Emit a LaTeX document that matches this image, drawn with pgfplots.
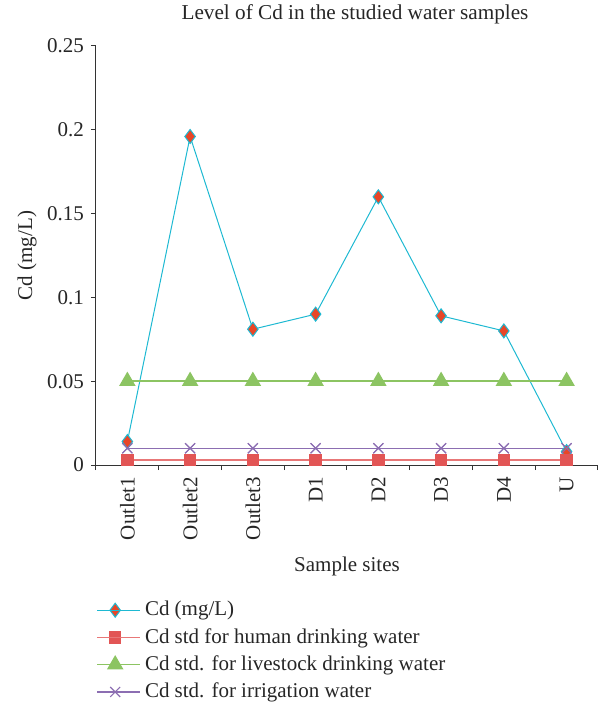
\documentclass[border=0pt]{standalone}
\usepackage{fontspec}
\setmainfont{Liberation Serif}
\usepackage{pgfplots}
\pgfplotsset{compat=1.18}
\definecolor{cdcyan}{RGB}{30,185,210}
\definecolor{cdred}{RGB}{232,70,40}
\definecolor{hred}{RGB}{226,85,85}
\definecolor{lgreen}{RGB}{140,196,98}
\definecolor{ipurple}{RGB}{140,110,178}
\begin{document}
\begin{tikzpicture}
\begin{axis}[
  scale only axis,
  width=251pt, height=209.5pt,
  xmin=-0.5, xmax=7.5,
  ymin=0, ymax=0.25,
  axis x line*=bottom, axis y line*=left,
  axis line style={line width=0.5pt, black!80},
  xtick={0,...,7},
  xticklabels={Outlet1,Outlet2,Outlet3,D1,D2,D3,D4,U},
  major x tick style={draw=none},
  minor xtick={-0.5,0.5,...,7.5},
  minor x tick style={line width=0.5pt, black!80},
  minor tick length=2.5pt,
  ytick={0,0.05,0.1,0.15,0.2,0.25},
  yticklabels={0,0.05,0.1,0.15,0.2,0.25},
  y tick style={line width=0.5pt, black!80},
  major tick length=2.5pt,
  tick align=outside,
  x tick label style={rotate=90, anchor=east, font=\fontsize{10.5}{12}\selectfont, color=black!85},
  y tick label style={font=\fontsize{10.5}{12}\selectfont, color=black!85},
  /pgf/number format/assume math mode=true,
  title={Level of Cd in the studied water samples},
  title style={font=\fontsize{10.6}{12}\selectfont, color=black!85, at={(0.5,1)}, anchor=center, yshift=10pt, xshift=4pt},
  xlabel={Sample sites},
  xlabel style={font=\fontsize{10.5}{12}\selectfont, color=black!85, at={(0.5,0)}, anchor=center, yshift=-50.5pt},
  ylabel={Cd (mg/L)},
  ylabel style={font=\fontsize{10.5}{12}\selectfont, color=black!85, at={(0,0.5)}, anchor=center, yshift=34.5pt},
  legend style={draw=none, fill=none, at={(0,0)}, anchor=north west, yshift=-64pt, xshift=-3pt,
    font=\fontsize{10.5}{12}\selectfont, text=black!85, row sep=0.75pt},
  legend cell align=left,
  legend image code/.code={\draw[mark repeat=2, mark phase=2] plot coordinates {(0pt,0pt)(9pt,0pt)(18pt,0pt)};\path (0pt,0pt) -- (21.5pt,0pt);},
  clip=false,
]
\addplot[color=ipurple, line width=0.6pt, mark=x, mark size=3.5pt, mark options={line width=0.6pt}, forget plot]
  coordinates {(0,0.01)(1,0.01)(2,0.01)(3,0.01)(4,0.01)(5,0.01)(6,0.01)(7,0.01)};
\addplot[color=cdcyan, line width=0.5pt, mark=diamond*, mark size=3.5pt, mark options={fill=cdred, draw=cdcyan, line width=0.5pt}]
  coordinates {(0,0.014)(1,0.196)(2,0.081)(3,0.090)(4,0.160)(5,0.089)(6,0.080)(7,0.008)};
\addplot[color=hred!80, line width=0.8pt, mark=square*, mark size=2.7pt, mark options={fill=hred, draw=hred}]
  coordinates {(0,0.003)(1,0.003)(2,0.003)(3,0.003)(4,0.003)(5,0.003)(6,0.003)(7,0.003)};
\addplot[color=lgreen, line width=0.8pt, mark=triangle*, mark size=4pt, mark options={fill=lgreen, draw=lgreen}]
  coordinates {(0,0.05)(1,0.05)(2,0.05)(3,0.05)(4,0.05)(5,0.05)(6,0.05)(7,0.05)};
\addplot[color=ipurple, line width=0.6pt, mark=x, mark size=3.5pt, mark options={line width=0.6pt}]
  coordinates {(0,0.01)(1,0.01)(2,0.01)(3,0.01)(4,0.01)(5,0.01)(6,0.01)(7,0.01)};
\legend{Cd (mg/L),Cd std for human drinking water,Cd std. for livestock drinking water,Cd std. for irrigation water}
\end{axis}
\pgfresetboundingbox
\path ([xshift=-48pt,yshift=-120pt]current axis.south west) rectangle ([xshift=2pt,yshift=23pt]current axis.north east);
\end{tikzpicture}
\end{document}
